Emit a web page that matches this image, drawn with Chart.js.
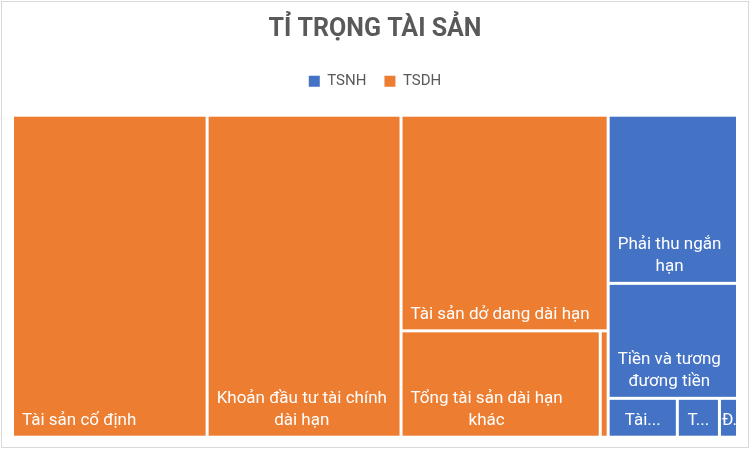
<!DOCTYPE html>
<html lang="vi">
<head>
<meta charset="utf-8">
<title>Tỉ trọng tài sản</title>
<script src="https://cdn.jsdelivr.net/npm/chart.js@4.4.1/dist/chart.umd.min.js"></script>
<style>
    html, body { margin: 0; padding: 0; background: #fff; }
    canvas { display: block; }
</style>
</head>
<body>
<canvas id="treemapChart" width="751" height="451"></canvas>
<script>
// Groups and their items (share of total assets, %)
const groupNames = ['TSNH', 'TSDH'];

const tsnhLabels = ['Phải thu ngắn hạn', 'Tiền và tương đương tiền', 'Tài sản ngắn hạn khác', 'Tồn kho', 'Đầu tư tài chính ngắn hạn'];
const tsnhValues = [9.3, 6.36, 1.15, 0.70, 0.30];

const tsdhLabels = ['Tài sản cố định', 'Khoản đầu tư tài chính dài hạn', 'Tài sản dở dang dài hạn', 'Tổng tài sản dài hạn khác', 'Phải thu dài hạn'];
const tsdhValues = [26.8, 26.7, 19.1, 9.06, 0.36];

const groupLabels = [tsnhLabels, tsdhLabels];
const groupValues = [tsnhValues, tsdhValues];
const groupColors = ['#4472C4', '#ED7D31'];

const sum = arr => arr.reduce((a, b) => a + b, 0);

// worst aspect ratio of a row laid along a side
function worst(row, side) {
    const s = sum(row);
    const mx = Math.max(...row), mn = Math.min(...row);
    return Math.max(side * side * mx / (s * s), (s * s) / (side * side * mn));
}

// squarified layout, items must be sorted descending
function squarify(values, rect) {
    const total = sum(values);
    const areas = values.map(v => v / total * rect.w * rect.h);
    const out = [];
    let r = { x: rect.x, y: rect.y, w: rect.w, h: rect.h };
    let i = 0;
    while (i < areas.length) {
        const side = Math.min(r.w, r.h);
        let row = [areas[i]];
        let j = i + 1;
        while (j < areas.length) {
            const next = row.concat(areas[j]);
            if (worst(next, side) <= worst(row, side)) { row = next; j++; } else break;
        }
        const s = sum(row);
        if (r.w >= r.h) {
            const t = s / r.h;
            let yy = r.y;
            row.forEach(a => { out.push({ x: r.x, y: yy, w: t, h: a / t }); yy += a / t; });
            r = { x: r.x + t, y: r.y, w: r.w - t, h: r.h };
        } else {
            const t = s / r.w;
            let xx = r.x;
            row.forEach(a => { out.push({ x: xx, y: r.y, w: a / t, h: t }); xx += a / t; });
            r = { x: r.x, y: r.y + t, w: r.w, h: r.h - t };
        }
        i = j;
    }
    return out;
}

// word wrap with Excel-like "..." truncation
function fitLabel(ctx, text, maxW, maxLines) {
    const words = text.normalize('NFC').split(' ');
    const lines = [];
    let cur = '';
    let tooLong = false;
    words.forEach(w => {
        if (ctx.measureText(w).width > maxW) tooLong = true;
        const t = cur ? cur + ' ' + w : w;
        if (!cur || ctx.measureText(t).width <= maxW) {
            cur = t;
        } else {
            lines.push(cur);
            cur = w;
        }
    });
    if (cur) lines.push(cur);
    if (!tooLong && lines.length <= maxLines) return { lines, cut: false };

    const kept = lines.slice(0, maxLines);
    let last = kept[kept.length - 1];
    while (last.length > 1 && ctx.measureText(last + '...').width > maxW) last = last.slice(0, -1);
    kept[kept.length - 1] = last + '...';
    return { lines: kept, cut: true };
}

const treemapPlugin = {
    id: 'treemap',
    beforeDraw(chart) {
        const { ctx, width, height } = chart;
        ctx.save();
        ctx.fillStyle = '#fff';
        ctx.fillRect(0, 0, width, height);
        ctx.strokeStyle = '#D9D9D9';
        ctx.lineWidth = 1;
        ctx.strokeRect(1.5, 1.5, width - 4, height - 5);
        ctx.restore();
    },
    beforeDatasetsDraw(chart) {
        const { ctx, chartArea, scales } = chart;
        const xs = scales.x, ys = scales.y;
        const k = chartArea.width / chartArea.height;

        const groups = groupNames
            .map((name, gi) => ({ gi, total: sum(groupValues[gi]) }))
            .filter(g => chart.isDatasetVisible(g.gi))
            .sort((a, b) => b.total - a.total);
        if (!groups.length) return;

        const groupRects = squarify(groups.map(g => g.total), { x: 0, y: 0, w: 100 * k, h: 100 });

        const gap = 1.5;
        const fontSize = 17;
        const lineH = 22.7;
        const pad = 8;

        ctx.save();
        groups.forEach((g, n) => {
            const items = groupValues[g.gi]
                .map((v, idx) => ({ v, label: groupLabels[g.gi][idx] }))
                .sort((a, b) => b.v - a.v);
            const cells = squarify(items.map(it => it.v), groupRects[n]);

            cells.forEach((c, idx) => {
                const x0 = xs.getPixelForValue(c.x / k) + gap;
                const x1 = xs.getPixelForValue((c.x + c.w) / k) - gap;
                const y0 = ys.getPixelForValue(c.y) + gap;
                const y1 = ys.getPixelForValue(c.y + c.h) - gap;
                const w = x1 - x0, h = y1 - y0;
                if (w <= 0 || h <= 0) return;

                ctx.fillStyle = groupColors[g.gi];
                ctx.fillRect(x0, y0, w, h);

                if (w < 10) return;
                ctx.save();
                ctx.beginPath();
                ctx.rect(x0, y0, w, h);
                ctx.clip();
                ctx.font = `${fontSize}px Roboto`;
                ctx.fillStyle = '#fff';
                ctx.textAlign = 'center';
                ctx.textBaseline = 'alphabetic';

                const maxW = w - pad * 2;
                const maxLines = Math.max(1, Math.floor((h - 6) / lineH));
                const fit = fitLabel(ctx, items[idx].label, maxW, maxLines);
                const blockW = Math.max(...fit.lines.map(l => ctx.measureText(l).width));
                let cx;
                if (fit.cut) {
                    cx = Math.max(x0 + 1 + blockW / 2, x0 + w / 2);
                } else {
                    cx = x0 + pad + blockW / 2;
                }
                const lastBase = y1 - 10.5;
                fit.lines.forEach((line, li) => {
                    const yy = lastBase - (fit.lines.length - 1 - li) * lineH;
                    ctx.fillText(line, cx, yy);
                });
                ctx.restore();
            });
        });
        ctx.restore();
    }
};

Chart.defaults.font.family = 'Roboto';

new Chart(document.getElementById('treemapChart'), {
    type: 'scatter',
    data: {
        datasets: groupNames.map((name, gi) => ({
            label: name,
            data: [],
            backgroundColor: groupColors[gi],
            borderColor: groupColors[gi],
            borderWidth: 0,
            pointRadius: 0
        }))
    },
    options: {
        responsive: false,
        animation: false,
        layout: { padding: { top: 0, left: 12.5, right: 13.5, bottom: 13.8 } },
        scales: {
            x: { type: 'linear', min: 0, max: 100, display: false },
            y: { type: 'linear', min: 0, max: 100, reverse: true, display: false }
        },
        plugins: {
            title: {
                display: true,
                text: 'TỈ TRỌNG TÀI SẢN',
                color: '#595959',
                font: { size: 25, weight: 'bold' },
                padding: { top: 15, bottom: 10.8 }
            },
            legend: {
                position: 'top',
                labels: {
                    boxWidth: 11,
                    boxHeight: 11,
                    padding: 18,
                    color: '#595959',
                    font: { size: 15 }
                }
            },
            // empty spacer between legend and plot
            subtitle: {
                display: true,
                text: '',
                weight: 500,
                font: { size: 10 },
                padding: { top: 4.4, bottom: 0 }
            },
            tooltip: { enabled: false }
        }
    },
    plugins: [treemapPlugin]
});
</script>
</body>
</html>
